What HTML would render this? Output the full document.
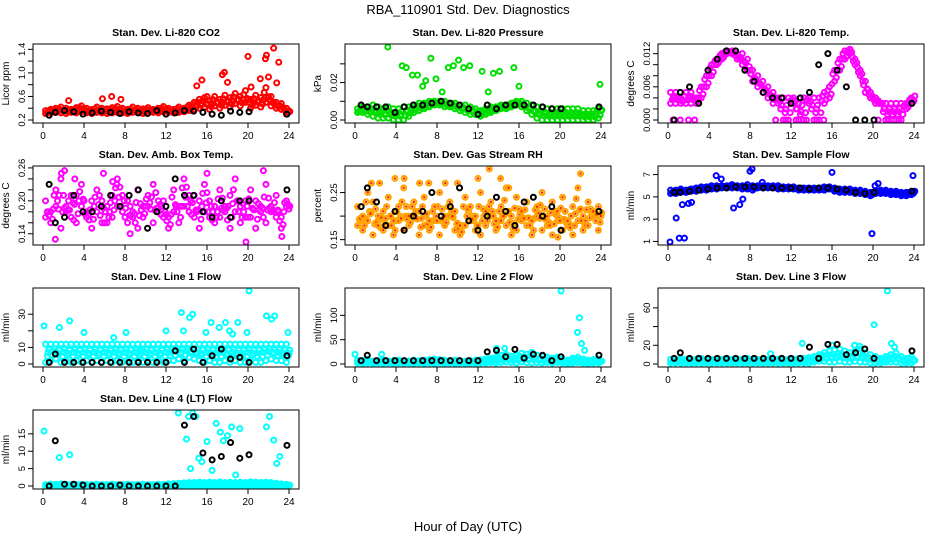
<!DOCTYPE html>
<html><head><meta charset="utf-8"><style>
body{margin:0;background:#fff;}
svg{display:block;font-family:"Liberation Sans",sans-serif;}
</style></head><body>
<svg id="c" width="936" height="540" viewBox="0 0 936 540">
<text x="468" y="14" text-anchor="middle" font-size="13">RBA_110901  Std. Dev. Diagnostics</text>
<text x="468" y="531" text-anchor="middle" font-size="13">Hour of Day (UTC)</text>
</svg>
<script>
const hours48=[0.25,0.75,1.25,1.75,2.25,2.75,3.25,3.75,4.25,4.75,5.25,5.75,6.25,6.75,7.25,7.75,8.25,8.75,9.25,9.75,10.25,10.75,11.25,11.75,12.25,12.75,13.25,13.75,14.25,14.75,15.25,15.75,16.25,16.75,17.25,17.75,18.25,18.75,19.25,19.75,20.25,20.75,21.25,21.75,22.25,22.75,23.25,23.75];
const hours24=[0.6,1.2,2.1,3.0,3.9,4.8,5.7,6.6,7.5,8.4,9.3,10.2,11.1,12.0,12.9,13.8,14.7,15.6,16.5,17.4,18.3,19.2,20.1,23.8];
const xTicks=[0,4,8,12,16,20,24];

// CO2
const co2Base=[0.36,0.38,0.40,0.42,0.40,0.38,0.41,0.44,0.40,0.38,0.42,0.40,0.39,0.41,0.43,0.40,0.38,0.42,0.40,0.39,0.41,0.38,0.40,0.43,0.40,0.38,0.42,0.40,0.45,0.50,0.55,0.58,0.52,0.60,0.55,0.62,0.58,0.65,0.60,0.70,0.55,0.62,0.58,0.75,0.60,0.50,0.48,0.40];
const co2Low=[0.31,0.32,0.33,0.32,0.31,0.33,0.32,0.34,0.32,0.31,0.33,0.32,0.31,0.32,0.33,0.32,0.31,0.33,0.32,0.31,0.32,0.33,0.32,0.34,0.33,0.32,0.33,0.34,0.36,0.38,0.40,0.42,0.38,0.44,0.40,0.45,0.42,0.48,0.44,0.50,0.40,0.45,0.42,0.50,0.44,0.40,0.38,0.30];
const co2Black=[0.28,0.33,0.36,0.34,0.30,0.32,0.35,0.33,0.31,0.34,0.32,0.31,0.36,0.30,0.32,0.36,0.35,0.33,0.30,0.28,0.35,0.33,0.34,0.30];
const co2OutX=[15,15.5,16,17.5,17.7,18,20,20.3,21.2,21.7,21.8,22,22.5,22.8,23,2.5,5.8,6.7,7.6];
const co2OutY=[0.78,0.88,0.6,0.97,1.01,0.84,1.28,0.76,0.9,1.24,1.3,0.93,1.42,0.83,1.18,0.53,0.56,0.6,0.55];
// Pressure
const prBase=[0.006,0.007,0.007,0.008,0.007,0.006,0.007,0.006,0.006,0.007,0.007,0.008,0.009,0.009,0.010,0.010,0.010,0.010,0.009,0.009,0.008,0.008,0.007,0.006,0.005,0.006,0.007,0.007,0.008,0.008,0.009,0.010,0.010,0.009,0.008,0.007,0.007,0.006,0.006,0.006,0.006,0.006,0.006,0.006,0.005,0.005,0.005,0.006];
const prLow=[0.004,0.004,0.003,0.002,0.001,0.001,0.001,0.000,0.000,0.000,0.002,0.004,0.005,0.006,0.007,0.008,0.008,0.007,0.007,0.006,0.005,0.004,0.003,0.003,0.002,0.003,0.004,0.005,0.006,0.006,0.007,0.008,0.007,0.005,0.003,0.001,0.000,0.000,0.000,0.000,0.000,0.000,0.000,0.000,0.000,0.000,0.000,0.001];
const prBlack=[0.008,0.007,0.007,0.007,0.004,0.007,0.008,0.008,0.009,0.010,0.009,0.008,0.006,0.003,0.008,0.006,0.008,0.008,0.008,0.008,0.007,0.006,0.006,0.007];
const prOutX=[3.2,4.6,5,5.6,6.1,6.6,6.9,7.4,7.9,8.5,9.1,9.6,10.1,10.6,11.2,12.4,13,13.5,14.1,15.5,16,23.9];
const prOutY=[0.039,0.029,0.028,0.024,0.024,0.018,0.021,0.033,0.022,0.015,0.028,0.029,0.032,0.028,0.029,0.026,0.015,0.025,0.026,0.028,0.018,0.019];
// Li-820 temp
const tBase=[0.005,0.005,0.004,0.005,0.005,0.004,0.006,0.008,0.010,0.011,0.012,0.0125,0.0125,0.012,0.012,0.011,0.009,0.008,0.007,0.006,0.005,0.004,0.004,0.004,0.004,0.003,0.004,0.004,0.004,0.004,0.005,0.006,0.009,0.011,0.0125,0.0128,0.011,0.009,0.007,0.005,0.004,0.003,0.003,0.003,0.003,0.003,0.003,0.004];
const tLow=[0.003,0.003,0.003,0.003,0.003,0.003,0.004,0.006,0.008,0.010,0.011,0.012,0.012,0.011,0.010,0.009,0.007,0.006,0.005,0.004,0.003,0.003,0.000,0.000,0.003,0.000,0.000,0.003,0.000,0.000,0.003,0.004,0.007,0.009,0.011,0.012,0.010,0.008,0.005,0.004,0.003,0.003,0.000,0.000,0.000,0.000,0.002,0.003];
const tBlack=[0.000,0.005,0.006,0.003,0.009,0.011,0.0125,0.0125,0.009,0.007,0.005,0.004,0.004,0.003,0.004,0.005,0.010,0.012,0.009,0.006,0.000,0.000,0.000,0.003];
const tOutX=[0.5,1.2,2.0,2.6,10.5,11.5,12.5,13.5,14.5,15.2,20.5,21.5,22.5];
const tOutY=[0.000,0.000,0.000,0.000,0.000,0.000,0.000,0.000,0.000,0.000,0.000,0.000,0.000];
// Amb box temp
const abBase=[0.20,0.18,0.22,0.24,0.19,0.17,0.21,0.23,0.18,0.20,0.22,0.16,0.19,0.21,0.24,0.18,0.20,0.17,0.22,0.19,0.21,0.23,0.18,0.20,0.17,0.22,0.19,0.24,0.18,0.21,0.20,0.23,0.17,0.19,0.22,0.18,0.21,0.24,0.19,0.17,0.22,0.20,0.18,0.23,0.19,0.21,0.17,0.20];
const abLow=[0.17,0.16,0.19,0.15,0.18,0.21,0.16,0.19,0.17,0.15,0.18,0.20,0.16,0.17,0.19,0.21,0.16,0.18,0.15,0.17,0.19,0.16,0.20,0.17,0.15,0.18,0.16,0.19,0.21,0.17,0.15,0.18,0.20,0.16,0.17,0.19,0.15,0.18,0.16,0.20,0.17,0.15,0.19,0.16,0.18,0.17,0.15,0.19];
const abBlack=[0.23,0.16,0.17,0.21,0.18,0.18,0.19,0.21,0.19,0.21,0.22,0.15,0.18,0.19,0.24,0.21,0.21,0.18,0.17,0.20,0.17,0.20,0.20,0.22];
const abOutX=[1.2,1.8,2.1,3.1,5.9,6.8,7.2,8.5,16.0,19.8,21.5,23.3];
const abOutY=[0.13,0.25,0.255,0.24,0.25,0.235,0.23,0.14,0.25,0.125,0.255,0.135];
// Gas RH
const rhBase=[0.22,0.20,0.25,0.23,0.18,0.21,0.24,0.19,0.22,0.26,0.20,0.23,0.21,0.24,0.19,0.22,0.25,0.20,0.23,0.21,0.18,0.24,0.22,0.20,0.25,0.21,0.23,0.19,0.22,0.26,0.20,0.24,0.21,0.23,0.19,0.22,0.25,0.20,0.23,0.21,0.24,0.19,0.22,0.26,0.20,0.23,0.21,0.22];
const rhLow=[0.18,0.17,0.19,0.16,0.20,0.17,0.18,0.16,0.19,0.17,0.18,0.20,0.16,0.18,0.17,0.19,0.16,0.18,0.20,0.17,0.16,0.18,0.19,0.17,0.16,0.18,0.20,0.17,0.19,0.18,0.16,0.17,0.19,0.18,0.16,0.20,0.17,0.18,0.16,0.19,0.17,0.18,0.16,0.19,0.17,0.18,0.20,0.17];
const rhBlack=[0.22,0.26,0.23,0.18,0.21,0.17,0.20,0.21,0.25,0.20,0.22,0.26,0.19,0.17,0.20,0.24,0.21,0.18,0.23,0.24,0.20,0.22,0.17,0.21];
const rhOutX=[1.6,2.4,3.9,4.8,6.3,7.2,12.0,13.1,14.2,15.0,22.0,19.8,8.8,10.0];
const rhOutY=[0.27,0.27,0.28,0.28,0.27,0.27,0.28,0.30,0.28,0.26,0.29,0.155,0.27,0.27];
// Sample flow
const sfBase=[5.6,5.6,5.7,5.6,5.7,5.8,5.9,5.9,6.0,6.0,6.0,6.0,6.1,6.0,6.0,6.1,6.0,6.0,6.0,6.0,6.0,6.0,5.9,5.9,5.9,5.8,5.8,5.8,5.8,5.8,5.9,5.9,5.8,5.7,5.7,5.7,5.6,5.6,5.5,5.4,5.5,5.6,5.6,5.5,5.5,5.4,5.4,5.5];
const sfLow=[5.3,5.3,5.4,5.4,5.5,5.5,5.6,5.6,5.7,5.7,5.8,5.8,5.8,5.8,5.7,5.7,5.6,5.8,5.8,5.8,5.8,5.7,5.7,5.7,5.7,5.6,5.6,5.6,5.6,5.6,5.6,5.7,5.5,5.4,5.4,5.4,5.3,5.3,5.2,5.1,5.3,5.3,5.3,5.2,5.2,5.1,5.1,5.2];
const sfBlack=[5.4,5.4,5.5,5.6,5.7,5.8,5.8,5.9,5.9,5.9,5.8,5.8,5.8,5.8,5.8,5.7,5.8,5.8,5.7,5.6,5.4,5.3,5.4,5.5];
const sfOutX=[0.2,0.8,1.1,1.4,1.6,2.0,2.3,4.7,5.2,6.4,7.0,7.3,8.0,8.2,9.2,19.9,20.2,20.5,23.9,16.0];
const sfOutY=[0.95,3.1,1.3,4.3,1.3,4.4,4.5,6.9,6.6,4.0,4.3,4.8,7.3,7.5,6.3,1.7,6.0,6.2,6.9,7.2];
// Line 1
const l1Base=[12,12,12,12,12,12,12,12,12,12,12,12,12,12,12,12,12,12,12,12,12,12,12,12,12,12,12,12,12,12,12,12,12,12,12,12,12,12,12,12,12,12,12,12,12,12,12,12];
const l1Low=[1,2,3,1,2,1,2,1,2,1,2,1,2,1,2,1,2,1,2,1,2,1,2,1,2,2,3,2,4,3,2,1,2,1,1,2,1,2,1,1,2,1,1,2,3,2,2,1];
const l1Black=[1,6,1,1,1,1,1,1,1,1,1,1,1,1,8,1,9,1,5,9,3,4,1,5];
const l1OutX=[0.1,1.6,2.6,4,6.9,8.1,9.4,12,13.5,13.7,14.3,14.6,15.9,16.4,17.2,17.8,18.2,18.5,19,19.9,20.1,21.8,22.3,22.6,23.9];
const l1OutY=[23,22,26,19,16,19,8,20,31,20,28,30,19,25,22,25,20,18,25,19,44,29,27,29,19];
// Line 2
const l2Base=[8,7,9,6,7,8,6,7,8,7,6,8,7,8,9,10,9,8,7,8,7,6,7,8,9,10,12,14,18,20,16,18,22,20,24,18,16,14,12,14,10,8,12,14,10,8,9,10];
const l2Low=[2,1,2,1,2,1,2,1,2,1,2,1,2,1,2,1,2,1,2,1,2,1,2,1,2,2,3,2,3,4,3,2,4,3,2,3,2,3,2,3,2,1,2,3,2,1,2,2];
const l2Black=[7,18,7,7,7,7,7,7,7,7,7,7,7,7,25,28,15,30,12,20,18,7,15,18];
const l2OutX=[0,2.6,13.8,14.6,20.1,21.7,21.9,22.1,22.4];
const l2OutY=[20,20,32,32,150,65,95,42,28];
// Line 3
const l3Base=[5,5,6,5,5,5,6,5,5,5,5,6,5,5,5,6,5,5,5,5,6,5,5,5,5,6,6,7,8,10,12,14,15,16,14,12,14,16,12,10,8,6,8,10,12,8,6,8];
const l3Low=[1,1,1,1,1,1,1,1,1,1,1,1,1,1,1,1,1,1,1,1,1,1,1,1,1,1,1,1,2,3,3,2,2,3,2,2,3,2,2,1,1,1,2,2,2,1,1,1];
const l3Black=[6,12,6,6,6,6,6,6,6,6,6,6,6,6,6,18,6,21,21,10,12,16,6,14];
const l3OutX=[10,13.1,16.0,18.2,18.7,20.1,21.4,21.8,22.1];
const l3OutY=[11,22,20,20,19,42,78,22,18];
// Line 4
const l4Base=[0.4,0.5,0.5,0.6,0.5,0.4,0.4,0.5,0.4,0.4,0.5,0.4,0.4,0.5,0.4,0.4,0.5,0.4,0.4,0.5,0.4,0.4,0.5,0.4,0.6,0.7,0.8,0.9,1.0,1.0,1.1,1.0,1.1,1.0,1.2,1.0,1.1,1.0,1.1,1.0,1.2,1.1,1.0,1.1,1.0,0.8,0.6,0.5];
const l4Low=[0,0,0,0,0,0,0,0,0,0,0,0,0,0,0,0,0,0,0,0,0,0,0,0,0,0,0,0,0,0,0,0,0,0,0,0,0,0,0,0,0,0,0,0,0,0,0,0];
const l4Black=[0,13,0.5,0.5,0.3,0,0,0,0.3,0,0,0,0,0,0,17.5,20,9.5,7.5,8.5,12.5,8,9,11.7];
const l4OutX=[0.1,1.6,2.6,13.2,14.0,14.2,14.4,14.6,14.9,15.2,15.5,16.0,16.5,16.9,17.3,17.6,18.0,18.4,18.8,19.2,21.8,22.1,22.5,22.8,23.1];
const l4OutY=[15.8,8.2,9.0,21.0,13.5,20.0,5.0,21.0,20.0,8.0,7.0,12.8,4.5,18.0,15.5,13.0,14.5,17.0,3.2,16.5,17.0,20.0,13.2,6.5,8.5];

const panels=[
 {t:"Stan. Dev. Li-820 CO2",yl:"Licor ppm",lo:0.2,hi:1.44,yt:[0.2,0.4,0.6,0.8,1.0,1.2,1.4],lab:["0.2","","0.6","","1.0","","1.4"],col:"#ff0000",b:co2Base,l:co2Low,k:co2Black,ox:co2OutX,oy:co2OutY},
 {t:"Stan. Dev. Li-820 Pressure",yl:"kPa",lo:0,hi:0.039,yt:[0,0.01,0.02,0.03],lab:["0.00","","0.02",""],col:"#00dd00",b:prBase,l:prLow,k:prBlack,ox:prOutX,oy:prOutY},
 {t:"Stan. Dev. Li-820 Temp.",yl:"degrees C",lo:0,hi:0.0132,yt:[0,0.002,0.004,0.006,0.008,0.010,0.012],lab:["0.000","","","0.006","","","0.012"],col:"#ff00ff",b:tBase,l:tLow,k:tBlack,ox:tOutX,oy:tOutY},
 {t:"Stan. Dev. Amb. Box Temp.",yl:"degrees C",lo:0.125,hi:0.258,yt:[0.14,0.16,0.18,0.20,0.22,0.24,0.26],lab:["0.14","","","0.20","","","0.26"],col:"#ff00ff",b:abBase,l:abLow,k:abBlack,ox:abOutX,oy:abOutY},
 {t:"Stan. Dev. Gas Stream RH",yl:"percent",lo:0.145,hi:0.30,yt:[0.15,0.20,0.25],lab:["0.15","","0.25"],col:"#ffa500",b:rhBase,l:rhLow,k:rhBlack,ox:rhOutX,oy:rhOutY},
 {t:"Stan. Dev. Sample Flow",yl:"ml/min",lo:0.95,hi:7.5,yt:[1,3,5,7],lab:["1","3","5","7"],col:"#0000ff",b:sfBase,l:sfLow,k:sfBlack,ox:sfOutX,oy:sfOutY},
 {t:"Stan. Dev. Line 1 Flow",yl:"ml/min",lo:0,hi:44,yt:[0,10,20,30],lab:["0","10","","30"],col:"#00ffff",b:l1Base,l:l1Low,k:l1Black,ox:l1OutX,oy:l1OutY},
 {t:"Stan. Dev. Line 2 Flow",yl:"ml/min",lo:0,hi:150,yt:[0,50,100],lab:["0","50","100"],col:"#00ffff",b:l2Base,l:l2Low,k:l2Black,ox:l2OutX,oy:l2OutY},
 {t:"Stan. Dev. Line 3 Flow",yl:"ml/min",lo:0,hi:78,yt:[0,20,40,60],lab:["0","20","","60"],col:"#00ffff",b:l3Base,l:l3Low,k:l3Black,ox:l3OutX,oy:l3OutY},
 {t:"Stan. Dev. Line 4 (LT) Flow",yl:"ml/min",lo:0,hi:21,yt:[0,5,10,15],lab:["0","5","10","15"],col:"#00ffff",b:l4Base,l:l4Low,k:l4Black,ox:l4OutX,oy:l4OutY}
];
const svg=document.getElementById('c');
const NS="http://www.w3.org/2000/svg";
function mk(tag,attrs,parent){const e=document.createElementNS(NS,tag);for(const a in attrs)e.setAttribute(a,attrs[a]);(parent||svg).appendChild(e);return e;}
const colX0=[43,355,668];
panels.forEach((p,i)=>{
 const c=i%3,r=Math.floor(i/3);
 const x0=colX0[c],L=x0-10,R=x0+256,T=44+122*r,B=123+122*r;
 const xs=h=>x0+h*10.25;
 const ys=v=>B-3-(v-p.lo)/(p.hi-p.lo)*(B-T-6);
 const g=mk('g',{});
 
 
 const tt=mk('text',{x:(L+R)/2,y:T-8,'text-anchor':'middle','font-size':10.5,'font-weight':'bold'},g);tt.textContent=p.t;
 
 
 const pts=mk('g',{fill:'none','stroke-width':2},g);
 
 
 const dot=(h,v,col,cls)=>{const e=mk('circle',{cx:xs(h),cy:ys(v),r:2.5,stroke:col},pts);
  
  
  if(col=="#ffa500"){mk('circle',{cx:xs(h),cy:ys(v),r:1.2,fill:'#ff2000',stroke:'none'},pts);} };
 hours48.forEach((h,j)=>{
  const nb=p.b[(j+1)%48],nl=p.l[(j+1)%48];
  dot(h,p.l[j],p.col,'point-low');
  dot(h+0.17,p.l[j]*0.67+p.b[j]*0.33,p.col,'point-mid');
  dot(h+0.33,nl*0.33+nb*0.67,p.col,'point-mid');
  dot(h+0.25,nl*0.5+p.b[j]*0.5,p.col,'point-mid');
  dot(h,p.b[j],p.col,'point');});
 p.ox.forEach((h,j)=>dot(h,p.oy[j],p.col,'point-outlier'));
 hours24.forEach((h,j)=>dot(h,p.k[j],'#000','point-black'));
 const box=mk('rect',{x:L,y:T,width:R-L,height:B-T,fill:'none',stroke:'#000','stroke-width':1},g);
 
 
 xTicks.forEach(h=>{mk('line',{x1:xs(h),x2:xs(h),y1:B,y2:B+5,stroke:'#000'},g);
  const t=mk('text',{x:xs(h),y:B+16,'text-anchor':'middle','font-size':10},g);t.textContent=h;
  
  });
 p.yt.forEach((v,j)=>{const y=ys(v);mk('line',{x1:L-5,x2:L,y1:y,y2:y,stroke:'#000'},g);
  if(p.lab[j]){const t=mk('text',{x:L-8,y:y,'text-anchor':'middle','font-size':9.5,transform:`rotate(-90 ${L-8} ${y})`},g);t.textContent=p.lab[j];
  
  }});
 const yl=mk('text',{x:L-24,y:(T+B)/2,'text-anchor':'middle','font-size':10,transform:`rotate(-90 ${L-24} ${(T+B)/2})`},g);yl.textContent=p.yl;
 
 
});
</script>
</body></html>
